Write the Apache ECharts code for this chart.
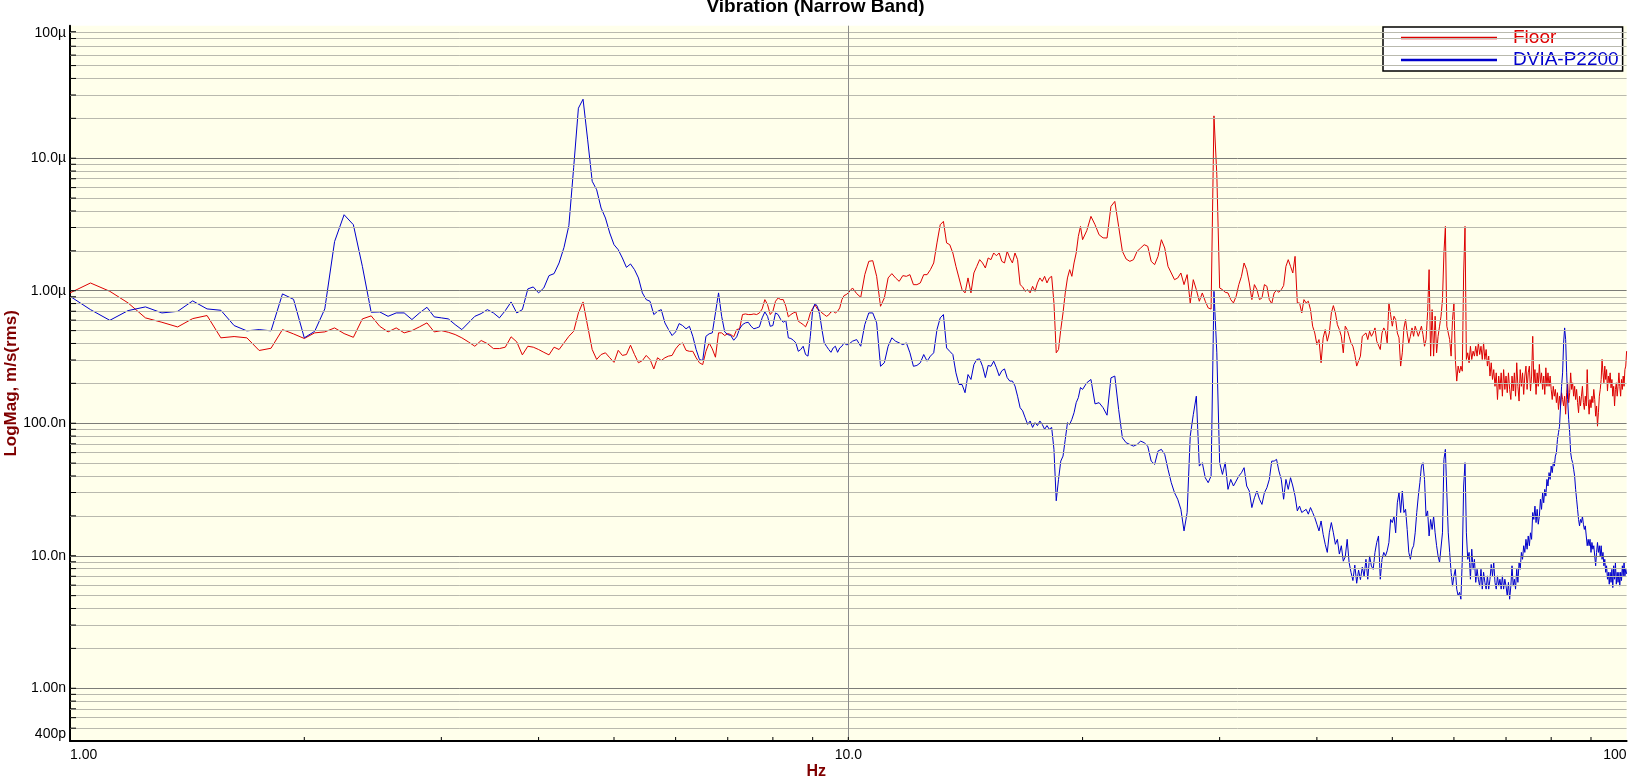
<!DOCTYPE html>
<html>
<head>
<meta charset="utf-8">
<script src="https://cdn.jsdelivr.net/npm/echarts@6/dist/echarts.min.js"></script>
<style>
html,body{margin:0;padding:0;background:#ffffff;}
#chart{width:1631px;height:776px;}
</style>
</head>
<body>
<div id="chart"></div>
<script>
// ---- frequency grid segments (Hz): start and step of each segment ----
const segStarts = [1, 10.125, 20.25, 50.25];
const segSteps  = [0.0625, 0.125, 0.25, 0.25];

// ---- Floor (red) magnitudes, nm/s (rms) ----
const floorA = [
  963,1144,990,809,624,578,533,616,650,441,
  451,441,354,368,509,472,436,481,489,524,
  475,445,613,646,539,489,524,481,500,534,
  572,489,500,486,467,441,411,381,421,399,
  366,366,375,449,411,328,381,375,360,343,
  328,375,360,404,453,494,680,823,540,360,
  303,330,340,312,288,355,325,330,388,330,
  286,297,325,303,257,312,297,312,321,325,
  364,392,404,355,349,349,312,286,277,349,
  404,364,315,481,481,459,475,467,449,509,
  516,661,668,661,661,668,661,680,729,857,
  786,661,699,832,882,857,857,763,635,661,
  680,692,588,572,555,534,588,680,737,782,
  729,712,680,661,641,657,692,699,680,699,
  742,857,919,935,963
];
const floorB = [
  1049,951,892,1322,1666,1686,1284,763,882,1249,
  1346,1249,1177,1300,1284,1322,1111,1111,1145,1322,
  1322,1442,1620,2295,3148,3337,2295,2225,1927,1527,
  1249,1019,963,1249,963,1362,1527,1716,1620,1485,
  1767,1716,1927,1837,1927,1666,1620,1982,1767,1620,
  1927,1716,1111,1068,990,1019,963,1080,990,1145,
  1249,1177,1284,1145,1249,1284,809,340,360,509,
  680,963,1249,1442,1284,1620,1927,2571,3057,2427
];
const floorC = [
  2843,3640,3148,2643,2505,2500,4327,4720,3059,1983,
  1735,1666,1715,1983,2101,2225,2163,1666,1573,1817,
  2427,2101,1528,1361,1212,1247,1361,1112,1323,809,
  1212,1019,833,962,833,742,727,20870,7500,1049,
  1019,973,962,857,809,908,1112,1285,1619,1442,
  1144,857,1112,1019,857,882,1112,1080,857,799,
  962,1008,973,1019,1093,1528,1715,1528,1361,1817,
  809,809,680,857,809,833,720,540,480,392,
  428,286,441,509,416,480,680,772,680,555,
  509,453,340,540,509,453,404,381,330,270,
  262,321,453,467,480,428,495,453,480,524,
  416,404,360,480,524,495,404,809,660,540
];
const floorD = [
  642,606,480,441,270,340,524,606,480,404,
  453,524,453,540,524,453,495,540,467,381,
  428,680,1442,321,720,321,642,340,453,540,
  642,857,1926,3058,540,556,428,321,606,809,
  303,208,270,240,270,247,1361,3058,303,340,
  286,381,303,350,321,381,321,404,330,381,
  303,404,303,360,270,321,227,286,214,254,
  190,240,151,227,180,240,160,254,180,227,
  170,240,180,151,227,175,240,160,286,190,
  147,254,190,240,165,227,270,180,240,270,
  175,227,453,202,254,165,240,190,278,202,
  240,180,227,165,262,190,240,190,227,180,
  151,190,160,180,143,170,127,160,135,170,
  151,135,160,117,170,202,143,170,240,180,
  202,160,190,151,180,143,120,160,135,160,
  190,143,127,160,135,254,151,117,151,131,
  160,143,180,151,113,135,95,120,160,180,
  214,303,240,202,270,214,254,175,227,202,
  240,185,214,160,190,135,180,202,160,190,
  240,190,160,214,180,227,190,254,270,350
];

// ---- DVIA-P2200 (blue) magnitudes, nm/s (rms) ----
const dviaA = [
  908,720,598,708,755,680,699,838,729,712,
  546,498,509,498,946,861,441,494,729,2350,
  3746,3148,1527,688,692,641,680,680,606,680,
  750,635,624,613,555,509,572,641,672,720,
  680,624,708,823,680,720,1032,1068,963,1050,
  1300,1346,1620,2124,3100,8500,23850,27880,13760,6700,
  5779,4207,3537,2727,2225,2040,1767,1501,1592,1442,
  1249,963,857,832,661,699,720,572,509,459,
  489,565,546,516,539,453,360,303,297,453,
  473,481,680,963,641,489,467,459,423,449,
  516,555,572,578,539,516,524,534,624,692,
  641,539,546,680,661,606,578,598,441,436,
  423,404,349,360,381,330,321,453,720,800,
  763,661,509,404,381,360,343,370,381,343,
  370,381,404,392,392
];
const dviaB = [
  416,428,381,555,680,680,572,269,286,381,
  441,416,404,392,404,340,269,273,286,330,
  294,321,340,509,624,661,370,349,330,240,
  196,196,170,233,214,277,303,306,269,221,
  273,269,294,262,228,249,257,221,208,208,
  191,160,131,124,110,98,104,93,101,96,
  104,98,90,96,90,93,63.6,26,37.7,51.8,
  56.5,75.5,101,98,107,120,143,156,186,180
];
const dviaC = [
  202,214,140,143,131,115,220,227,127,77.7,
  71.3,69.2,67.2,69.2,73.3,71.3,67.2,51.8,48.9,61.7,
  63.5,58.2,44.9,35.6,29.9,26.7,22.4,15.4,21.2,80,
  116,160,47.5,50.4,38.8,35.6,40,990,340,50.4,
  41.1,50.4,31.7,37.7,33.6,36.6,40,42.3,46.2,33.6,
  30.8,23.1,27.4,30.8,26.7,24.4,29.9,32.6,37.7,51.8,
  51.8,53.4,43.6,37.7,26.7,37.7,31.7,38.8,33.6,28.2,
  21.8,23.7,21.2,21.8,22.4,20.6,23.1,21.2,19.4,17.3,
  15.4,18.3,14.5,12.2,10.6,14.9,17.8,14.9,12.2,13.3,
  10.3,11.9,9.1,9.8,13.3,8.9,7.5,6.5,8.5,6.2,
  7.8,6.6,8.2,7.0,9.4,6.65,9.97,8.38,7.9,10.6,
  12.6,14.1,6.65,9.4,10.6,9.97,10.9,12.6,18.8,17.8
];
const dviaD = [
  19.9,14.9,25.1,29.9,21.2,30.8,21.2,22.4,15.8,10.6,
  9.4,11.2,11.9,14.9,21.2,28.2,35.6,47.5,50.4,37.7,
  19.9,21.8,14.1,18.8,15.8,19.9,14.9,11.9,9.97,8.9,
  8.6,14.9,53.4,63.5,29.9,14.9,10.6,7.5,5.9,7.05,
  7.9,5.6,4.98,5.3,4.7,9.4,33.6,50.4,14.9,9.4,
  10.6,6.65,11.2,7.9,9.4,6.3,7.9,6.65,5.9,7.9,
  5.6,7.5,6.3,5.6,7.05,5.6,6.65,8.6,7.05,8.9,
  6.3,5.6,7.05,5.9,6.65,5.6,7.05,5.6,6.65,5.9,
  4.98,6.3,4.7,5.9,8.4,5.9,6.65,5.6,7.9,6.3,
  8.9,7.9,10.6,9.4,11.9,10.6,13.3,11.2,14.1,11.9,
  14.9,13.3,21.2,18.8,23.7,17.8,22.4,17.3,19.9,26.7,
  22.4,29.9,25.1,31.7,28.2,37.7,33.6,42.4,37.7,47.5,
  42.4,50.4,47.5,56.5,59.9,75.5,84.8,95,135,190,
  240,404,524,428,240,151,107,84.8,59.9,53.4,
  50.4,44.9,40,31.7,26.7,22.4,18.8,16.8,18.8,17.8,
  19.9,17.3,15.8,16.8,14.1,11.9,13.3,11.9,13.3,10.6,
  12.6,11.2,11.9,9.97,8.4,10.6,12.6,10.6,11.9,9.97,
  11.9,9.4,10.6,8.4,9.4,7.5,8.4,6.65,7.5,6.1,
  7.5,6.3,7.9,5.75,8.4,6.65,8.9,6.1,7.5,6.3,
  7.5,5.9,7.5,6.5,8.4,7.05,8.9,7.05,7.9,7.3
];

// ---- axis tick labels ----
const xTickValues = [1, 10, 100];
const xTickLabels = ['1.00', '10.0', '100'];
const yTickValues = [0.4, 1, 10, 100, 1000, 10000, 100000];
const yTickLabels = ['400p', '1.00n', '10.0n', '100.0n', '1.00\u00b5', '10.0\u00b5', '100\u00b5'];

const seriesNames = ['Floor', 'DVIA-P2200'];
const seriesColors = ['#DD0000', '#0000CC'];

// ---- build [freq, value] pairs ----
function pairs(segs) {
  const out = [];
  segs.forEach(function (vals, s) {
    vals.forEach(function (v, i) { out.push([segStarts[s] + i * segSteps[s], v]); });
  });
  return out;
}
const floorData = pairs([floorA, floorB, floorC, floorD]);
const dviaData = pairs([dviaA, dviaB, dviaC, dviaD]);

function lookup(v, values, labels) {
  const lv = Math.log10(v);
  for (let i = 0; i < values.length; i++) {
    if (Math.abs(lv - Math.log10(values[i])) < 0.01) return labels[i];
  }
  return '';
}

// grid line values on the log y-axis (1..9 x decade)
const yMin = 0.4, yMax = 100000;
const yDecades = [], yMinors = [];
for (let k = -1; k <= 4; k++) {
  for (let m = 1; m <= 9; m++) {
    const v = +(m * Math.pow(10, k)).toPrecision(6);
    if (v <= yMin || v >= yMax) continue;
    if (m === 1) yDecades.push(v); else yMinors.push(v);
  }
}
const xMinors = [];
for (let k = 0; k <= 1; k++) {
  for (let m = 1; m <= 9; m++) {
    const v = m * Math.pow(10, k);
    if (v > 1 && v < 100) xMinors.push(v);
  }
}

const FONT = 'Liberation Sans, Arial, sans-serif';
const chart = echarts.init(document.getElementById('chart'), null, {renderer: 'canvas'});

const gridLineData = []
  .concat(yMinors.map(function (v) { return {yAxis: v, lineStyle: {color: '#B9B9AE', width: 1, type: 'solid'}}; }))
  .concat(yDecades.map(function (v) { return {yAxis: v, lineStyle: {color: '#7C7C78', width: 1, type: 'solid'}}; }))
  .concat([{xAxis: 10, lineStyle: {color: '#8C8C8C', width: 1, type: 'solid'}}]);

const option = {
  animation: false,
  backgroundColor: '#ffffff',
  title: {
    text: 'Vibration (Narrow Band)',
    left: 'center',
    top: -3,
    padding: 0,
    textStyle: {fontFamily: FONT, fontSize: 19, fontWeight: 'bold', color: '#000', lineHeight: 19}
  },
  legend: {
    orient: 'vertical',
    left: 1383,
    top: 27,
    backgroundColor: '#ffffff',
    borderColor: '#000000',
    borderWidth: 1.5,
    borderRadius: 0,
    padding: [1, 4, 1, 18],
    itemWidth: 96,
    itemHeight: 2.5,
    itemGap: 2,
    icon: 'rect',
    selectedMode: false,
    textStyle: {fontFamily: FONT, fontSize: 19, lineHeight: 20, padding: [0, 0, 0, 11]},
    data: [
      {name: seriesNames[0], textStyle: {color: seriesColors[0]}},
      {name: seriesNames[1], textStyle: {color: seriesColors[1]}}
    ]
  },
  grid: {
    left: 70, right: 4.4, top: 25.7, bottom: 35,
    show: true, backgroundColor: '#FFFFEB', borderWidth: 0,
    containLabel: false,
    outerBoundsMode: 'none'
  },
  xAxis: {
    type: 'log', logBase: 10, min: 1, max: 100,
    name: 'Hz', nameLocation: 'middle', nameGap: 23, nameMoveOverlap: false,
    nameTextStyle: {fontFamily: FONT, fontSize: 16, fontWeight: 'bold', color: '#800000', padding: [0, 64, 0, 0]},
    axisLine: {show: true, lineStyle: {color: '#000', width: 2}},
    axisTick: {show: false},
    splitLine: {show: false},
    minorTick: {show: false},
    axisLabel: {
      show: true, margin: 7, color: '#000', fontFamily: FONT, fontSize: 14,
      alignMinLabel: 'left', alignMaxLabel: 'right',
      formatter: function (v) { return lookup(v, xTickValues, xTickLabels); }
    }
  },
  yAxis: {
    type: 'log', logBase: 10, min: yMin, max: yMax,
    name: 'LogMag, m/s(rms)', nameLocation: 'middle', nameGap: 50, nameMoveOverlap: false,
    nameTextStyle: {fontFamily: FONT, fontSize: 17, fontWeight: 'bold', color: '#800000'},
    axisLine: {show: true, lineStyle: {color: '#000', width: 2}},
    axisTick: {show: false},
    splitLine: {show: false},
    minorTick: {show: false},
    axisLabel: {
      show: true, margin: 4, color: '#000', fontFamily: FONT, fontSize: 14,
      verticalAlignMinLabel: 'bottom', verticalAlignMaxLabel: 'top',
      formatter: function (v) { return lookup(v, yTickValues, yTickLabels); }
    }
  },
  series: [
    {
      name: '_grid', type: 'line', data: [], silent: true, z: 1,
      markLine: {silent: true, symbol: ['none', 'none'], label: {show: false}, animation: false, data: gridLineData}
    },
    {
      name: seriesNames[0], type: 'line', data: floorData, z: 3,
      showSymbol: false, symbol: 'none', sampling: null,
      lineStyle: {color: seriesColors[0], width: 1}, itemStyle: {color: seriesColors[0]}
    },
    {
      name: seriesNames[1], type: 'line', data: dviaData, z: 4,
      showSymbol: false, symbol: 'none', sampling: null,
      lineStyle: {color: seriesColors[1], width: 1}, itemStyle: {color: seriesColors[1]}
    }
  ]
};
chart.setOption(option);

// inside tick marks drawn at axis scale positions
const gx0 = chart.convertToPixel({xAxisIndex: 0}, 1);
const gy0 = chart.convertToPixel({yAxisIndex: 0}, yMin);
const ticks = [];
yDecades.concat(yMinors).forEach(function (v) {
  const py = chart.convertToPixel({yAxisIndex: 0}, v);
  ticks.push({type: 'line', silent: true, z: 10, shape: {x1: gx0, y1: py, x2: gx0 + 6, y2: py}, style: {stroke: '#000', lineWidth: 1}});
});
xMinors.forEach(function (v) {
  const px = chart.convertToPixel({xAxisIndex: 0}, v);
  ticks.push({type: 'line', silent: true, z: 10, shape: {x1: px, y1: gy0, x2: px, y2: gy0 - 4}, style: {stroke: '#000', lineWidth: 1}});
});
chart.setOption({graphic: ticks});
</script>
</body>
</html>
